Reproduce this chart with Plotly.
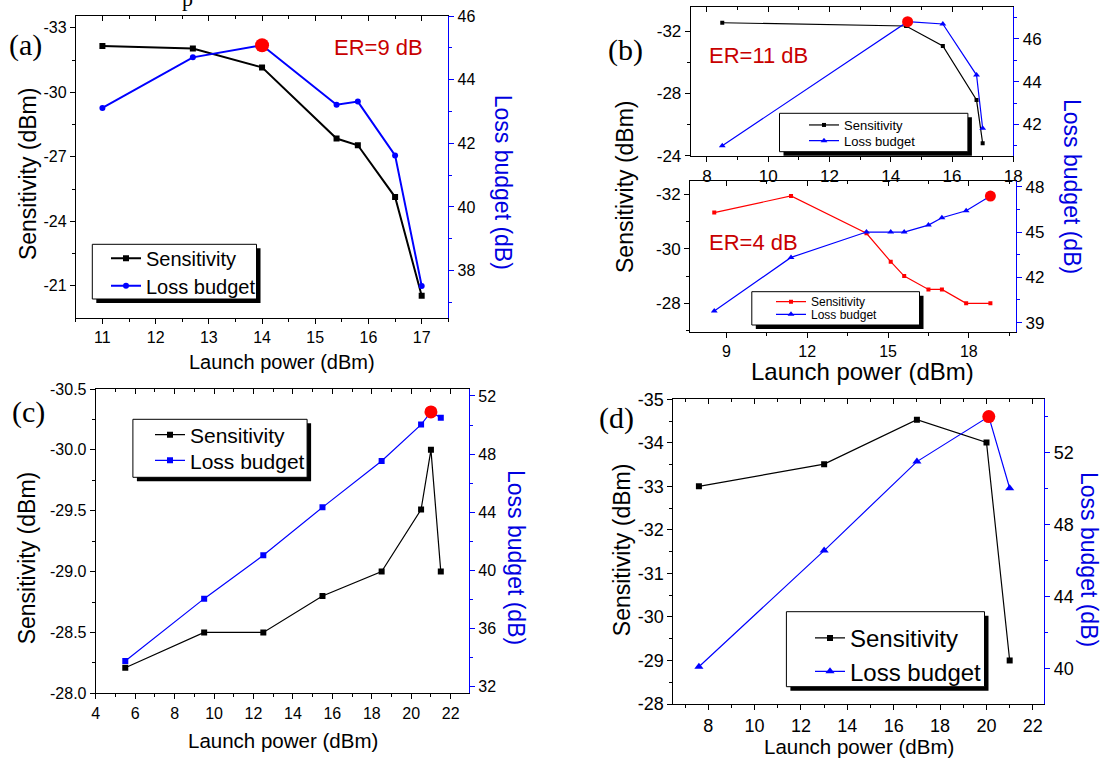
import plotly.graph_objects as go

W, H = 1102, 760

# ---------------- data ----------------
# (a) ER = 9 dB
a_power = [11, 12.7, 14, 15.4, 15.8, 16.5, 17]
a_sens = [-32.15, -32.04, -31.16, -27.85, -27.54, -25.13, -20.54]
a_loss = [43.11, 44.70, 45.08, 43.21, 43.31, 41.62, 37.52]
a_best_power = [14]
a_best_loss = [45.08]

# (b) upper: ER = 11 dB
b1_power_sens = [8.5, 14.5, 15.7, 16.8, 17.0]
b1_sens = [-32.53, -32.32, -31.04, -27.57, -24.8]
b1_power_loss = [8.5, 14.55, 15.7, 16.8, 17.0]
b1_loss = [41.0, 46.81, 46.70, 44.31, 41.82]
b1_best_power = [14.55]
b1_best_loss = [46.81]

# (b) lower: ER = 4 dB
b2_power = [8.55, 11.4, 14.2, 15.1, 15.6, 16.5, 17.0, 17.9, 18.8]
b2_sens = [-31.33, -31.94, -30.57, -29.53, -29.0, -28.51, -28.51, -28.0, -28.0]
b2_loss = [39.77, 43.32, 45.0, 45.0, 45.0, 45.46, 45.95, 46.41, 47.38]
b2_best_power = [18.8]
b2_best_loss = [47.38]

# (c)
c_power = [5.5, 9.5, 12.5, 15.5, 18.5, 20.5, 21, 21.5]
c_sens = [-28.21, -28.5, -28.5, -28.80, -29.0, -29.51, -30.0, -29.0]
c_loss = [33.77, 38.06, 41.04, 44.34, 47.53, 50.03, 50.9, 50.51]
c_best_power = [21]
c_best_loss = [50.9]

# (d)
d_power_sens = [7.6, 13, 17, 20, 21]
d_sens = [-33.0, -33.51, -34.53, -34.01, -29.0]
d_power_loss = [7.6, 13, 17, 20.1, 21]
d_loss = [40.11, 46.56, 51.5, 54.0, 50.02]
d_best_power = [20.1]
d_best_loss = [54.0]

# ---------------- tick values ----------------
a_xt = [11, 12, 13, 14, 15, 16, 17]
a_xm = [10.5, 11.5, 12.5, 13.5, 14.5, 15.5, 16.5, 17.5]
a_ylt = [-33, -30, -27, -24, -21]
a_ylm = [-31.5, -28.5, -25.5, -22.5, -19.5]
a_yrt = [38, 40, 42, 44, 46]
a_yrm = [37, 39, 41, 43, 45]

b1_xt = [8, 10, 12, 14, 16, 18]
b1_xm = [9, 11, 13, 15, 17]
b1_ylt = [-32, -28, -24]
b1_ylm = [-30, -26]
b1_yrt = [42, 44, 46]
b1_yrm = [41, 43, 45, 47]

b2_xt = [9, 12, 15, 18]
b2_xm = [10.5, 13.5, 16.5, 19.5]
b2_ylt = [-32, -30, -28]
b2_ylm = [-31, -29, -27]
b2_yrt = [39, 42, 45, 48]
b2_yrm = [40.5, 43.5, 46.5]

c_xt = [4, 6, 8, 10, 12, 14, 16, 18, 20, 22]
c_xm = [5, 7, 9, 11, 13, 15, 17, 19, 21]
c_ylt = [-28.0, -28.5, -29.0, -29.5, -30.0, -30.5]
c_ylm = [-28.25, -28.75, -29.25, -29.75, -30.25]
c_yrt = [32, 36, 40, 44, 48, 52]
c_yrm = [34, 38, 42, 46, 50]

d_xt = [8, 10, 12, 14, 16, 18, 20, 22]
d_xm = [7, 9, 11, 13, 15, 17, 19, 21]
d_ylt = [-28, -29, -30, -31, -32, -33, -34, -35]
d_ylm = [-28.5, -29.5, -30.5, -31.5, -32.5, -33.5, -34.5]
d_yrt = [40, 44, 48, 52]
d_yrm = [42, 46, 50, 54]

# ---------------- style ----------------
BLUE = "#0000ff"
TITLEBLUE = "#0000e0"
RED = "#ff0000"
DARKRED = "#c80000"
SANS = "Liberation Sans, Arial, sans-serif"
SERIF = "Liberation Serif, Times New Roman, serif"


def fx(p):
    return p / W


def fy(p):
    return 1 - p / H


def ref(kind, n):
    return kind if n == 1 else f"{kind}{n}"


def key(kind, n):
    return f"{kind}axis" if n == 1 else f"{kind}axis{n}"


def lab(vals, dec=0):
    return [f"{v:.{dec}f}" for v in vals]


fig = go.Figure()
layout = {}


def add_panel(i, frame, xr, ylr, yrr, xt, xm, ylt, ylm, yrt, yrm, tsize, ldec=0, xsize=None):
    L, T, R, B = frame
    xb, xtop, yl, yr = 2 * i - 1, 2 * i, 2 * i - 1, 2 * i
    tf = dict(family=SANS, size=tsize, color="black")
    xf = dict(family=SANS, size=xsize or tsize, color="black")
    layout[key("x", xb)] = dict(
        domain=[fx(L), fx(R)], anchor=ref("y", yl), range=xr,
        tickmode="array", tickvals=xt, ticktext=lab(xt),
        ticks="outside", ticklen=5, tickwidth=1, tickcolor="black",
        showline=True, linecolor="black", linewidth=1, mirror=True,
        showgrid=False, zeroline=False, tickfont=xf,
        minor=dict(tickvals=xm, ticks="outside", ticklen=3, tickcolor="black", showgrid=False),
    )
    layout[key("x", xtop)] = dict(
        overlaying=ref("x", xb), side="top", anchor=ref("y", yl), range=xr,
        tickmode="array", tickvals=xt, ticks="inside", ticklen=5, tickcolor="black",
        showticklabels=False, showline=False, showgrid=False, zeroline=False,
        minor=dict(tickvals=xm, ticks="inside", ticklen=3, tickcolor="black", showgrid=False),
    )
    layout[key("y", yl)] = dict(
        domain=[fy(B), fy(T)], anchor=ref("x", xb), range=ylr,
        tickmode="array", tickvals=ylt, ticktext=lab(ylt, ldec),
        ticks="outside", ticklen=5, tickwidth=1, tickcolor="black",
        showline=True, linecolor="black", linewidth=1,
        showgrid=False, zeroline=False, tickfont=tf,
        minor=dict(tickvals=ylm, ticks="outside", ticklen=3, tickcolor="black", showgrid=False),
    )
    layout[key("y", yr)] = dict(
        overlaying=ref("y", yl), side="right", anchor=ref("x", xb), range=yrr,
        tickmode="array", tickvals=yrt, ticktext=lab(yrt),
        ticks="outside", ticklen=5, tickwidth=1, tickcolor=BLUE,
        showline=True, linecolor=BLUE, linewidth=1.2,
        showgrid=False, zeroline=False, tickfont=tf,
        minor=dict(tickvals=yrm, ticks="outside", ticklen=3, tickcolor=BLUE, showgrid=False),
    )
    return ref("x", xb), ref("x", xtop), ref("y", yl), ref("y", yr)


def add_series(i, axes, xs, ys, xl, yl_, best_x, best_y, sens_color, sens_size,
               loss_symbol, loss_size, lw, best_size):
    xb, xtop, yl, yr = axes
    fig.add_trace(go.Scatter(
        x=xs, y=ys, xaxis=xb, yaxis=yl, mode="lines+markers", name="Sensitivity",
        line=dict(color=sens_color, width=lw),
        marker=dict(symbol="square", size=sens_size, color=sens_color),
        legend=ref("legend", 2 * i - 1), hoverinfo="skip"))
    fig.add_trace(go.Scatter(
        x=xl, y=yl_, xaxis=xb, yaxis=yr, mode="lines+markers", name="Loss budget",
        line=dict(color=BLUE, width=lw),
        marker=dict(symbol=loss_symbol, size=loss_size, color=BLUE),
        legend=ref("legend", 2 * i), hoverinfo="skip"))
    fig.add_trace(go.Scatter(
        x=best_x, y=best_y, xaxis=xb, yaxis=yr, mode="markers", showlegend=False,
        marker=dict(symbol="circle", size=best_size, color=RED), hoverinfo="skip"))
    # invisible trace that carries the inside ticks of the top axis
    fig.add_trace(go.Scatter(
        x=xs, y=ys, xaxis=xtop, yaxis=yl, mode="markers", showlegend=False,
        marker=dict(opacity=0), hoverinfo="skip"))


# panel frames (left, top, right, bottom) in pixels
axA = add_panel(1, (75.8, 16, 448.3, 317.7), [10.5, 17.5], [-19.52, -33.55], [36.52, 46.0],
                a_xt, a_xm, a_ylt, a_ylm, a_yrt, a_yrm, 16)
add_series(1, axA, a_power, a_sens, a_power, a_loss, a_best_power, a_best_loss,
           "black", 6, "circle", 6, 2, 14)

axB1 = add_panel(2, (690.7, 6.7, 1013.3, 156), [7.47, 18.0], [-23.98, -33.56], [40.52, 47.51],
                 b1_xt, b1_xm, b1_ylt, b1_ylm, b1_yrt, b1_yrm, 17)
add_series(2, axB1, b1_power_sens, b1_sens, b1_power_loss, b1_loss, b1_best_power, b1_best_loss,
           "black", 4, "triangle-up", 6, 1.2, 11)

axB2 = add_panel(3, (690, 180.7, 1016, 331.7), [7.65, 19.75], [-26.96, -32.5], [38.4, 48.4],
                 b2_xt, b2_xm, b2_ylt, b2_ylm, b2_yrt, b2_yrm, 17, xsize=16)
add_series(3, axB2, b2_power, b2_sens, b2_power, b2_loss, b2_best_power, b2_best_loss,
           RED, 4, "triangle-up", 6, 1.2, 11)

axC = add_panel(4, (95.7, 389, 469, 693.3), [4.0, 22.93], [-28.0, -30.5], [31.55, 52.48],
                c_xt, c_xm, c_ylt, c_ylm, c_yrt, c_yrm, 16, ldec=1)
add_series(4, axC, c_power, c_sens, c_power, c_loss, c_best_power, c_best_loss,
           "black", 6, "square", 6, 1.2, 13)

axD = add_panel(5, (673.4, 399.3, 1044, 704), [6.5, 22.48], [-28.0, -35.0], [38.04, 54.96],
                d_xt, d_xm, d_ylt, d_ylm, d_yrt, d_yrm, 18)
add_series(5, axD, d_power_sens, d_sens, d_power_loss, d_loss, d_best_power, d_best_loss,
           "black", 6, "triangle-up", 8, 1.2, 13)

# ---------------- legends (one per entry, placed inside drawn boxes) ----------------
legend_specs = [
    # (left x of legend, centre y, font size)
    (106, 258.3, 20), (106, 285.7, 20),
    (804, 125.0, 13), (804, 140.7, 13),
    (771, 301.7, 12), (771, 314.3, 12),
    (150, 435.0, 21), (150, 460.7, 21),
    (810, 638.3, 24), (810, 671.7, 24),
]
for n, (lx, cy, fs) in enumerate(legend_specs, start=1):
    layout[ref("legend", n)] = dict(
        x=fx(lx), y=fy(cy), xanchor="left", yanchor="middle",
        bgcolor="rgba(0,0,0,0)", borderwidth=0,
        font=dict(family=SANS, size=fs, color="black"),
    )

boxes = [
    (92.3, 244.3, 256.5, 299.0, 4),
    (779.5, 113.3, 967.9, 151.7, 4),
    (751.8, 291.7, 919.5, 325.0, 4),
    (132.9, 419.3, 307.1, 477.3, 4),
    (786.4, 611.7, 984.5, 686.7, 4),
]
shapes = []
for x0, y0, x1, y1, off in boxes:
    shapes.append(dict(type="rect", xref="paper", yref="paper", layer="above",
                       x0=fx(x0 + off), x1=fx(x1 + off), y0=fy(y1 + off), y1=fy(y0 + off),
                       fillcolor="black", line=dict(width=0)))
    shapes.append(dict(type="rect", xref="paper", yref="paper", layer="above",
                       x0=fx(x0), x1=fx(x1), y0=fy(y1), y1=fy(y0),
                       fillcolor="white", line=dict(color="black", width=1)))

# ---------------- text ----------------
def ann(text, x, y, size, color="black", family=SANS, angle=0, **kw):
    d = dict(text=text, x=fx(x), y=fy(y), xref="paper", yref="paper", showarrow=False,
             font=dict(family=family, size=size, color=color), textangle=angle,
             xanchor="center", yanchor="middle")
    d.update(kw)
    return d


annotations = [
    ann("p", 187, 13, 22, family=SERIF, yanchor="bottom"),
    # panel labels
    ann("(a)", 25.8, 45, 30, family=SERIF),
    ann("(b)", 625.7, 50, 30, family=SERIF),
    ann("(c)", 28.6, 411.7, 30, family=SERIF),
    ann("(d)", 616, 418.3, 30, family=SERIF),
    # ER labels
    ann("ER=9 dB", 378, 47, 22, color=DARKRED),
    ann("ER=11 dB", 758.8, 55, 22, color=DARKRED),
    ann("ER=4 dB", 753.6, 242.7, 22, color=DARKRED),
    # (a) titles
    ann("Launch power (dBm)", 282.4, 361.7, 20),
    ann("Sensitivity (dBm)", 27.5, 173.6, 23, angle=-90),
    ann("Loss budget (dB)", 502.8, 182.5, 23, color=TITLEBLUE, angle=90),
    # (b) titles
    ann("Launch power (dBm)", 862.4, 371, 24),
    ann("Sensitivity (dBm)", 625, 187, 23, angle=-90),
    ann("Loss budget (dB)", 1072, 186, 23, color=TITLEBLUE, angle=90),
    # (c) titles
    ann("Launch power (dBm)", 283, 740, 20.5),
    ann("Sensitivity (dBm)", 26.8, 557.5, 23, angle=-90),
    ann("Loss budget (dB)", 516, 557, 23, color=TITLEBLUE, angle=90),
    # (d) titles
    ann("Launch power (dBm)", 859, 746.7, 20.5),
    ann("Sensitivity (dBm)", 622.2, 550, 23, angle=-90),
    ann("Loss budget (dB)", 1089, 559, 23, color=TITLEBLUE, angle=90),
]

fig.update_layout(
    width=W, height=H, autosize=False,
    margin=dict(l=0, r=0, t=0, b=0, pad=0, autoexpand=False),
    paper_bgcolor="white", plot_bgcolor="white",
    font=dict(family=SANS, color="black"),
    shapes=shapes, annotations=annotations,
    **layout,
)

# the page's default 8px body margin would push the 1102x760 figure off the window
fig.write_html(
    "out.html",
    config={"displayModeBar": False},
    post_script="document.body.style.margin='0';document.body.style.overflow='hidden';",
)
